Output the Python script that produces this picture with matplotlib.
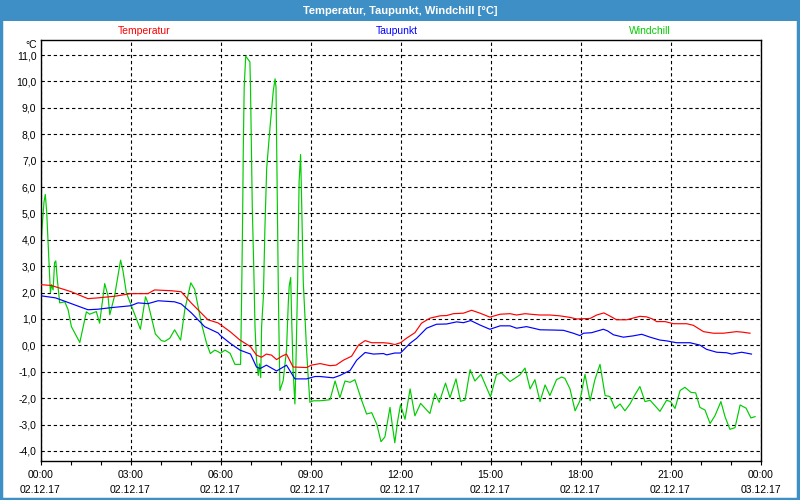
import matplotlib
matplotlib.use("Agg")
import matplotlib.pyplot as plt
from matplotlib.patches import Rectangle
from matplotlib.ticker import MultipleLocator, FixedLocator

# ---- data (hours since 02.12.17 00:00) ----
temp_h = [0.0, 0.36, 1.03, 1.58, 1.92, 2.47, 3.0, 3.58, 3.8, 4.36, 4.69, 5.03, 5.58, 5.92,
          6.32, 6.65, 7.0, 7.2, 7.37, 7.53, 7.7, 7.87, 8.03, 8.2, 8.42, 8.87, 9.03, 9.32,
          9.65, 9.85, 10.1, 10.37, 10.6, 10.82, 11.04, 11.43, 11.62, 11.81, 12.0, 12.2,
          12.48, 12.7, 12.98, 13.32, 13.54, 13.76, 14.1, 14.37, 14.65, 14.98, 15.32, 15.65,
          15.87, 16.15, 16.43, 16.65, 16.98, 17.3, 17.65, 17.87, 18.32, 18.54, 18.78, 19.0,
          19.2, 19.54, 19.98, 20.2, 20.4, 20.54, 20.82, 21.1, 21.54, 21.76, 22.1, 22.43,
          22.76, 23.2, 23.4, 23.65]
temp_v = [2.30, 2.27, 2.03, 1.77, 1.80, 1.86, 1.96, 1.96, 2.10, 2.07, 2.03, 1.60, 0.97, 0.85,
          0.52, 0.20, -0.05, -0.37, -0.45, -0.33, -0.37, -0.54, -0.42, -0.33, -0.82, -0.84, -0.75, -0.69,
          -0.77, -0.75, -0.56, -0.41, 0.01, 0.18, 0.10, 0.10, 0.08, 0.03, 0.10, 0.27,
          0.48, 0.84, 1.03, 1.12, 1.13, 1.20, 1.22, 1.33, 1.22, 1.07, 1.18, 1.20,
          1.15, 1.20, 1.17, 1.15, 1.15, 1.12, 1.06, 1.00, 1.02, 1.15, 1.23, 1.10,
          0.97, 0.97, 1.10, 1.08, 1.00, 0.90, 0.90, 0.82, 0.82, 0.76, 0.52, 0.46,
          0.46, 0.52, 0.50, 0.46]

dew_h = [0.0, 0.5, 1.03, 1.58, 1.92, 2.36, 3.0, 3.25, 3.58, 3.92, 4.47, 4.69, 5.03, 5.47, 5.92,
         6.0, 6.32, 6.65, 7.0, 7.2, 7.32, 7.53, 7.87, 8.2, 8.48, 8.87, 9.15, 9.32, 9.76, 9.98,
         10.32, 10.54, 10.82, 11.1, 11.43, 11.54, 11.81, 12.0, 12.32, 12.54, 12.87, 13.2,
         13.54, 13.87, 14.1, 14.34, 14.65, 14.98, 15.32, 15.65, 15.87, 16.2, 16.43, 16.65,
         17.1, 17.43, 17.76, 17.98, 18.1, 18.37, 18.76, 18.9, 19.1, 19.43, 19.76, 20.04,
         20.32, 20.65, 20.87, 21.2, 21.65, 21.98, 22.2, 22.54, 22.87, 23.04, 23.37, 23.7]
dew_v = [1.88, 1.80, 1.58, 1.35, 1.37, 1.43, 1.50, 1.61, 1.58, 1.69, 1.65, 1.57, 1.23, 0.71, 0.47,
         0.37, 0.08, -0.18, -0.33, -0.82, -0.88, -0.75, -0.97, -0.75, -1.27, -1.27, -1.18, -1.18, -1.23, -1.14,
         -0.95, -0.56, -0.27, -0.33, -0.31, -0.36, -0.29, -0.29, 0.08, 0.27, 0.65, 0.80,
         0.81, 0.89, 0.86, 0.94, 0.77, 0.61, 0.74, 0.74, 0.65, 0.71, 0.65, 0.59,
         0.58, 0.57, 0.46, 0.37, 0.46, 0.48, 0.61, 0.55, 0.40, 0.31, 0.36, 0.42,
         0.31, 0.20, 0.17, 0.10, 0.10, 0.01, -0.15, -0.26, -0.28, -0.33, -0.26, -0.33]

wind_h = [0.006, 0.05, 0.117, 0.16, 0.206, 0.25, 0.294, 0.33, 0.37, 0.42, 0.47, 0.51, 0.56, 0.64,
          0.81, 0.92, 1.03, 1.31, 1.53, 1.64, 1.86, 1.97, 2.14, 2.25, 2.31, 2.47, 2.67, 2.75,
          2.86, 3.03, 3.33, 3.5, 3.58, 3.83, 4.03, 4.14, 4.31, 4.47, 4.67, 4.81, 5.01, 5.14,
          5.25, 5.36, 5.53, 5.66, 5.81, 5.92, 6.0, 6.15, 6.32, 6.48, 6.67, 6.71, 6.74, 6.76,
          6.79, 6.84, 6.98, 7.0, 7.06, 7.11, 7.15, 7.2, 7.26, 7.3, 7.34, 7.37, 7.43, 7.48,
          7.54, 7.65, 7.76, 7.82, 7.85, 7.93, 7.98, 8.09, 8.2, 8.26, 8.29, 8.34, 8.37, 8.42,
          8.48, 8.51, 8.57, 8.62, 8.67, 8.7, 8.76, 8.87, 8.92, 8.98, 9.09, 9.32, 9.65, 9.82,
          9.98, 10.15, 10.32, 10.48, 10.71, 10.87, 11.04, 11.21, 11.35, 11.48, 11.65, 11.73,
          11.81, 11.9, 12.0, 12.15, 12.32, 12.48, 12.67, 12.98, 13.15, 13.29, 13.5, 13.65,
          13.85, 14.0, 14.15, 14.32, 14.48, 14.68, 15.0, 15.2, 15.37, 15.65, 15.98, 16.15,
          16.32, 16.48, 16.65, 16.82, 16.98, 17.2, 17.37, 17.48, 17.65, 17.82, 17.98, 18.15,
          18.32, 18.48, 18.65, 18.82, 18.98, 19.15, 19.32, 19.48, 19.65, 19.8, 19.98, 20.15,
          20.32, 20.65, 20.87, 21.0, 21.15, 21.32, 21.48, 21.68, 21.84, 21.98, 22.15, 22.32,
          22.48, 22.68, 22.82, 22.98, 23.15, 23.32, 23.52, 23.68, 23.82]
wind_v = [3.33, 4.42, 5.44, 5.72, 5.06, 4.00, 3.01, 1.99, 2.30, 2.10, 3.14, 3.20, 2.50, 1.61,
          1.65, 1.35, 0.71, 0.11, 1.27, 1.18, 1.28, 0.84, 2.34, 1.88, 1.16, 1.88, 3.23, 2.82,
          2.00, 1.50, 0.61, 1.84, 1.61, 0.43, 0.18, 0.15, 0.27, 0.59, 0.20, 1.35, 2.37, 2.12,
          1.48, 0.85, 0.10, -0.31, -0.18, -0.24, -0.30, -0.18, -0.30, -0.72, -0.72, 2.37, 5.12, 7.48,
          9.78, 10.96, 10.74, 9.78, 5.20, 2.88, 0.71, -0.56, -1.14, -0.70, -1.22, 0.71, 1.86, 4.42,
          6.72, 8.25, 9.65, 10.10, 9.78, 1.86, -1.71, -1.33, -0.18, 1.61, 2.25, 2.57, 1.10, -0.95,
          -2.22, -0.95, 2.37, 6.20, 7.23, 5.69, 2.37, -0.18, -1.14, -2.16, -2.10, -2.10, -2.06, -1.35,
          -1.98, -1.35, -1.40, -1.30, -2.10, -2.60, -2.55, -2.99, -3.65, -3.47, -2.35, -3.05,
          -3.69, -2.90, -2.25, -2.80, -1.65, -2.67, -2.20, -2.58, -1.82, -2.16, -1.43, -1.98,
          -1.27, -2.12, -2.07, -0.92, -1.35, -1.10, -1.95, -1.10, -1.05, -1.37, -1.12, -0.86,
          -1.65, -1.30, -2.13, -1.50, -1.90, -1.30, -1.20, -1.25, -1.65, -2.48, -2.10, -1.10,
          -2.10, -1.30, -0.72, -1.90, -1.94, -2.39, -2.22, -2.48, -2.22, -1.90, -1.56, -2.13,
          -2.08, -2.50, -2.08, -2.13, -2.39, -1.71, -1.59, -1.78, -1.80, -2.35, -2.45, -2.96,
          -2.67, -2.13, -2.71, -3.18, -3.12, -2.26, -2.38, -2.75, -2.70]

x_ticks = [0, 3, 6, 9, 12, 15, 18, 21, 24]
x_labels = ["00:00\n02.12.17", "03:00\n02.12.17", "06:00\n02.12.17", "09:00\n02.12.17",
            "12:00\n02.12.17", "15:00\n02.12.17", "18:00\n02.12.17", "21:00\n02.12.17",
            "00:00\n03.12.17"]
y_ticks = list(range(-4, 12))

title = "Temperatur, Taupunkt, Windchill [°C]"
series_names = ["Temperatur", "Taupunkt", "Windchill"]
series_colors = ["#ff0000", "#0000ff", "#00cc00"]

# ---- figure ----
FONT = "Liberation Sans"
fig = plt.figure(figsize=(8, 5), dpi=100)
fig.patch.set_facecolor("white")

bar_color = "#3d8fc6"
fig.patches.append(Rectangle((0, 1 - 21 / 500), 1, 21 / 500, transform=fig.transFigure,
                             facecolor=bar_color, edgecolor="none", zorder=0))
fig.patches.append(Rectangle((0.001, 0.003), 0.997, 0.996, transform=fig.transFigure,
                             facecolor="none", edgecolor=bar_color, linewidth=2.5, zorder=0))
fig.text(0.5, 1 - 10.5 / 500, title, ha="center", va="center", color="white",
         fontsize=8, fontweight="bold", family=FONT)

ax = fig.add_axes([40.5 / 800, 1 - 460.7 / 500, 720 / 800, (460.7 - 40) / 500])
ax.set_facecolor("white")

ax.plot(temp_h, temp_v, color=series_colors[0], lw=0.85, zorder=3)
ax.plot(dew_h, dew_v, color=series_colors[1], lw=0.85, zorder=3)
ax.plot(wind_h, wind_v, color=series_colors[2], lw=0.85, zorder=2)

ax.set_xlim(0, 24)
ax.set_ylim(-4.37, 11.57)

ax.xaxis.set_major_locator(FixedLocator(x_ticks))
ax.set_xticklabels(x_labels)
ax.xaxis.set_minor_locator(MultipleLocator(1))
ax.set_yticks(y_ticks)
ax.set_yticklabels([f"{v:.1f}".replace(".", ",") for v in y_ticks])

ax.tick_params(axis="x", which="both", direction="out", length=3, width=0.8,
               labelsize=7.5, pad=3.5, colors="black")
ax.tick_params(axis="y", which="both", length=0, pad=3, labelsize=7.5, colors="black")
for lab in ax.get_xticklabels():
    lab.set_family(FONT)
    lab.set_linespacing(1.65)
for lab in ax.get_yticklabels():
    lab.set_family(FONT)

ax.grid(True, which="major", color="black", linestyle=(0, (3, 2.5)), linewidth=0.8)
for s in ax.spines.values():
    s.set_color("black")
    s.set_linewidth(1.0)

# series names as header legend
pos_x = [144, 397, 650]
for name, col, px in zip(series_names, series_colors, pos_x):
    fig.text(px / 800, 1 - 30.5 / 500, name, color=col, ha="center", va="center",
             fontsize=7.5, family=FONT)

fig.text(37 / 800, 1 - 44.5 / 500, "°C", ha="right", va="center", fontsize=7.5,
         family=FONT, color="black")

fig.savefig("out.png", dpi=100)
